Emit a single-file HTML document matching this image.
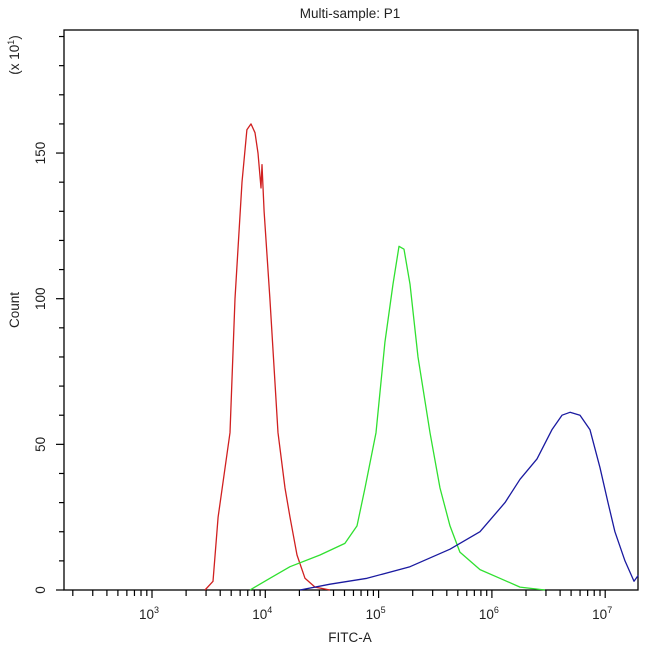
<!DOCTYPE html>
<html><head><meta charset="utf-8"><style>
body{margin:0;background:#fff}
svg{display:block;font-family:"Liberation Sans",Arial,sans-serif}
</style></head><body>
<svg id="chart" width="650" height="650" xmlns="http://www.w3.org/2000/svg">
<text x="350" y="18" font-size="13.5" text-anchor="middle" fill="#222">Multi-sample: P1</text>
<text x="350" y="642" font-size="13.5" text-anchor="middle" fill="#222">FITC-A</text>
<text transform="translate(19,310) rotate(-90)" font-size="13.5" text-anchor="middle" fill="#222">Count</text>
<text transform="translate(19,55) rotate(-90)" font-size="13.5" text-anchor="middle" fill="#222">(x 10<tspan dy="-5" font-size="9">1</tspan><tspan dy="5">)</tspan></text>
<g id="marks"></g>
</svg>
<script>
const xDecades=[3,4,5,6,7];
const yTicks=[0,50,100,150];
const redLog=[3.468,3.538,3.583,3.688,3.733,3.794,3.838,3.874,3.909,3.936,3.962,3.971,3.989,4.041,4.112,4.174,4.218,4.280,4.350,4.439,4.571];
const redCount=[0,3,25,54,100,140,158,160,157,150,138,146,130,100,54,35,25,12,4,1,0];
const greenLog=[3.865,4.041,4.218,4.483,4.703,4.809,4.880,4.977,5.056,5.127,5.180,5.224,5.277,5.348,5.454,5.542,5.630,5.718,5.895,6.071,6.248,6.469];
const greenCount=[0,4,8,12,16,22,35,54,85,105,118,117,105,80,54,35,22,13,7,4,1,0];
const blueLog=[4.306,4.571,4.898,5.277,5.630,5.895,6.116,6.248,6.398,6.530,6.619,6.689,6.778,6.866,6.954,7.025,7.086,7.175,7.254,7.291];
const blueCount=[0,2,4,8,14,20,30,38,45,55,60,61,60,55,42,30,20,10,3,5];

const L=64,R=638,T=30,B=590;
const xMinLog=3-(152-L)/113.3, xMaxLog=3+(R-152)/113.3;
const yMax=(B-T)/2.913;
function xs(lg){return L+(lg-xMinLog)/(xMaxLog-xMinLog)*(R-L);}
function ys(v){return B-v/yMax*(B-T);}
const NS="http://www.w3.org/2000/svg";
const g=document.getElementById('marks');
function mk(t,a){const e=document.createElementNS(NS,t);for(const k in a)e.setAttribute(k,a[k]);g.appendChild(e);return e;}

const frame=mk('rect',{x:L,y:T,width:R-L,height:B-T,fill:'none',stroke:'#000','stroke-width':1.3});



for(let d=2;d<=7;d++){
  for(let m=1;m<=9;m++){
    const lg=d+Math.log10(m);
    if(lg<xMinLog||lg>xMaxLog)continue;
    const x=xs(lg);
    const t=mk('line',{x1:x,x2:x,y1:B,y2:B+(m===1?8:6),stroke:'#000','stroke-width':1.2});
    
    
  }
}
xDecades.forEach(d=>{
  const tx=mk('text',{x:xs(d)-3,y:619,'font-size':13.5,'text-anchor':'middle',fill:'#222'});
  tx.innerHTML='10<tspan dy="-6" font-size="9">'+d+'</tspan>';
  
  
});
for(let v=0;v<=yMax;v+=10){
  const y=ys(v);
  const t=mk('line',{x1:L-(v%50===0?8:5),x2:L,y1:y,y2:y,stroke:'#000','stroke-width':1.2});
  
  
}
yTicks.forEach(v=>{
  const tx=mk('text',{transform:'translate(45,'+ys(v)+') rotate(-90)','font-size':13.5,'text-anchor':'middle',fill:'#222'});
  tx.textContent=v;
  
  
});
function series(lgs,cnts,color,name){
  const p=lgs.map((l,i)=>xs(l).toFixed(1)+','+ys(cnts[i]).toFixed(1)).join(' ');
  const e=mk('polyline',{points:p,fill:'none',stroke:color,'stroke-width':1.3,'stroke-linejoin':'round'});
  
  
}
series(redLog,redCount,'#d02020','series-red');
series(greenLog,greenCount,'#30e030','series-green');
series(blueLog,blueCount,'#1a1aa0','series-blue');
</script>
</body></html>
